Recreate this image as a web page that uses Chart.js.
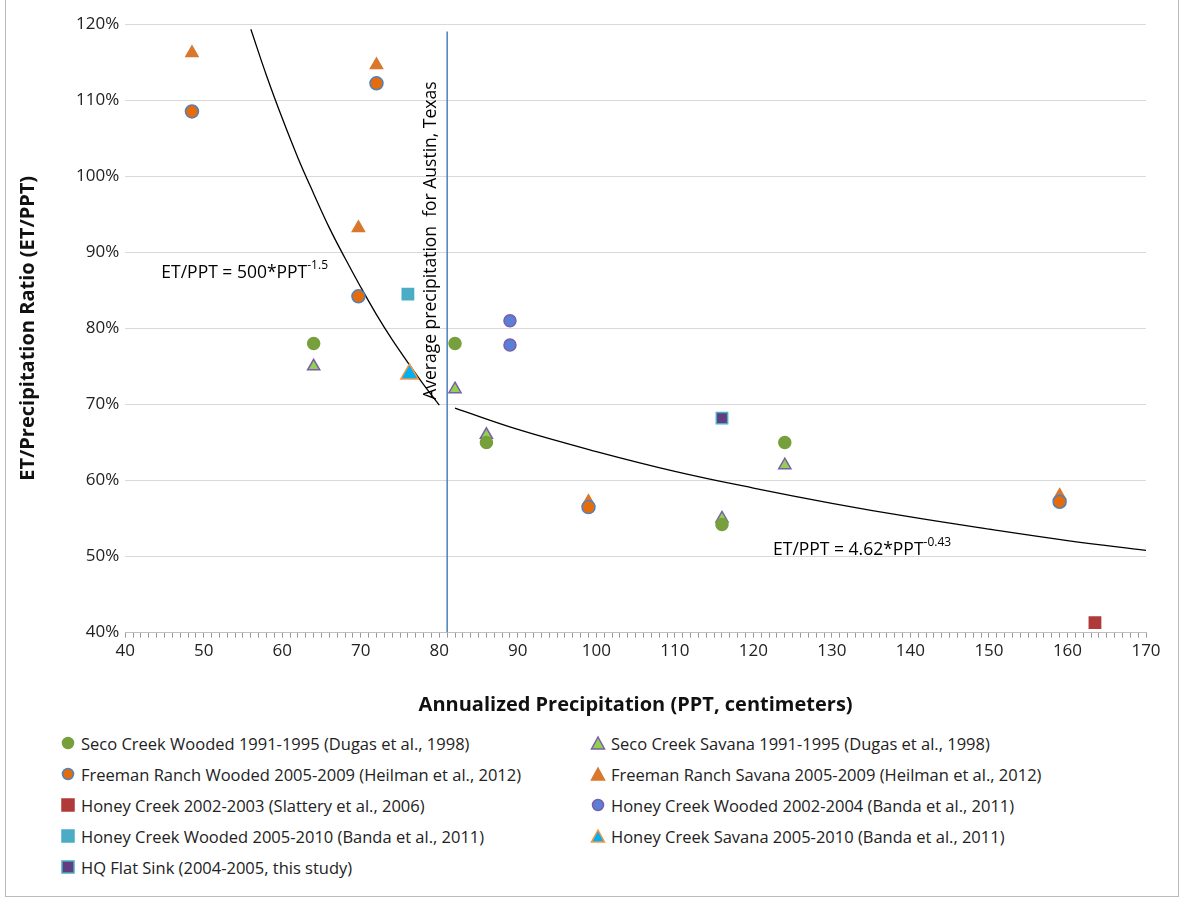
<!DOCTYPE html>
<html><head><meta charset="utf-8">
<script src="https://cdn.jsdelivr.net/npm/chart.js@4/dist/chart.umd.min.js"></script>
<style>
body{margin:0;background:#fff;font-family:"Open Sans",Calibri,sans-serif;}
#wrap{position:absolute;left:0;top:0;width:1179px;height:725px;}
#legend{position:absolute;left:60px;top:732px;width:1100px;font-size:16.5px;color:#222;
 display:grid;grid-template-columns:530px 530px;row-gap:9px;}
#legend div{display:flex;align-items:center;height:22px;}
#legend svg{margin-right:5px;}
#frame{position:absolute;left:5px;top:0;width:1172px;height:896px;border:1px solid #bbb;border-top:none;pointer-events:none;}
</style></head><body>
<div id="wrap"><canvas id="c"></canvas></div>
<div id="legend"></div>
<div id="frame"></div>
<script>
// data (PPT cm, ET/PPT %)
const secoWoodedX = [64, 82, 86, 116, 124];
const secoWoodedY = [78, 78, 65, 54.2, 65];
const secoSavanaX = [64, 82, 86, 116, 124];
const secoSavanaY = [75, 72, 66, 55, 62];
const freemanWoodedX = [48.5, 72, 69.7, 99, 159];
const freemanWoodedY = [108.5, 112.2, 84.2, 56.5, 57.2];
const freemanSavanaX = [48.5, 72, 69.7, 99, 159];
const freemanSavanaY = [116.2, 114.6, 93.2, 57.2, 58];
const honey0203X = [163.5];
const honey0203Y = [41.3];
const honeyWooded0204X = [89, 89];
const honeyWooded0204Y = [81, 77.8];
const honeyWooded0510X = [76];
const honeyWooded0510Y = [84.5];
const honeySavanaX = [76.2];
const honeySavanaY = [74];
const hqX = [116];
const hqY = [68.2];
const fit1X = [56, 58, 60, 62, 64, 66, 68, 70, 72, 74, 76, 78, 80];
const fit1Y = [119.3, 113.2, 107.6, 102.4, 97.7, 93.2, 89.2, 85.4, 81.8, 78.5, 75.5, 72.6, 69.9];
const fit2X = [82, 90, 100, 110, 120, 130, 140, 150, 160, 170];
const fit2Y = [69.5, 66.7, 63.8, 61.2, 59.0, 57.0, 55.2, 53.6, 52.1, 50.8];
const austinX = [81, 81];
const austinY = [40, 119];
const xTicks = [40, 50, 60, 70, 80, 90, 100, 110, 120, 130, 140, 150, 160, 170];

const pts = (xs, ys) => xs.map((x, i) => ({ x, y: ys[i] }));

const series = [
  { label: 'Seco Creek Wooded 1991-1995 (Dugas et al., 1998)', x: secoWoodedX, y: secoWoodedY, style: 'circle', fill: '#77a03c', edge: '#77a03c', r: 6 },
  { label: 'Seco Creek Savana 1991-1995 (Dugas et al., 1998)', x: secoSavanaX, y: secoSavanaY, style: 'triangle', fill: '#92d050', edge: '#7a5ea8', r: 7 },
  { label: 'Freeman Ranch Wooded 2005-2009 (Heilman et al., 2012)', x: freemanWoodedX, y: freemanWoodedY, style: 'circle', fill: '#e46c0a', edge: '#4f81bd', r: 6.5 },
  { label: 'Freeman Ranch Savana 2005-2009 (Heilman et al., 2012)', x: freemanSavanaX, y: freemanSavanaY, style: 'triangle', fill: '#d9782d', edge: '#d9782d', r: 7 },
  { label: 'Honey Creek 2002-2003 (Slattery et al., 2006)', x: honey0203X, y: honey0203Y, style: 'rect', fill: '#b03a3a', edge: '#b03a3a', r: 8 },
  { label: 'Honey Creek Wooded 2002-2004 (Banda et al., 2011)', x: honeyWooded0204X, y: honeyWooded0204Y, style: 'circle', fill: '#5b7fd6', edge: '#7a5ea8', r: 6 },
  { label: 'Honey Creek Wooded 2005-2010 (Banda et al., 2011)', x: honeyWooded0510X, y: honeyWooded0510Y, style: 'rect', fill: '#4bacc6', edge: '#4bacc6', r: 8 },
  { label: 'Honey Creek Savana 2005-2010 (Banda et al., 2011)', x: honeySavanaX, y: honeySavanaY, style: 'triangle', fill: '#00b0f0', edge: '#f79646', r: 10 },
  { label: 'HQ Flat Sink (2004-2005, this study)', x: hqX, y: hqY, style: 'rect', fill: '#5f3f7f', edge: '#4bacc6', r: 8 }
];

const datasets = series.map(s => ({
  type: 'scatter', label: s.label, data: pts(s.x, s.y), pointStyle: s.style,
  pointRadius: s.r, pointBackgroundColor: s.fill, pointBorderColor: s.edge, pointBorderWidth: 1.5, showLine: false
}));
datasets.push(
  { type: 'line', data: pts(fit1X, fit1Y), borderColor: '#000', borderWidth: 1.3, pointRadius: 0, tension: 0.4, fill: false },
  { type: 'line', data: pts(fit2X, fit2Y), borderColor: '#000', borderWidth: 1.3, pointRadius: 0, tension: 0.4, fill: false },
  { type: 'line', data: pts(austinX, austinY), borderColor: '#4a7ebb', borderWidth: 1.5, pointRadius: 0, fill: false }
);

const notes = {
  id: 'notes',
  afterDatasetsDraw(chart) {
    const { ctx, scales: { x, y } } = chart;
    ctx.save();
    ctx.fillStyle = '#000';
    ctx.textBaseline = 'alphabetic';
    const sup = (txt, s, px, py) => {
      ctx.font = '17.5px "Open Sans", sans-serif';
      ctx.fillText(txt, px, py);
      const w = ctx.measureText(txt).width;
      ctx.font = '12px "Open Sans", sans-serif';
      ctx.fillText(s, px + w, py - 9);
    };
    sup('ET/PPT = 500*PPT', '-1.5', x.getPixelForValue(44.6), y.getPixelForValue(86.6));
    sup('ET/PPT = 4.62*PPT', '-0.43', x.getPixelForValue(122.5), y.getPixelForValue(50.2));
    ctx.translate(x.getPixelForValue(79.6), y.getPixelForValue(70.6));
    ctx.rotate(-Math.PI / 2);
    ctx.font = '17.5px "Open Sans", sans-serif';
    ctx.fillText('Average precipitation  for Austin, Texas', 0, 0);
    ctx.restore();
  }
};

new Chart(document.getElementById('c'), {
  data: { datasets },
  plugins: [notes],
  options: {
    responsive: true, maintainAspectRatio: false, animation: false,
    layout: { padding: { top: 24, right: 33, left: 12, bottom: 4 } },
    plugins: { legend: { display: false }, tooltip: { enabled: false } },
    scales: {
      x: {
        type: 'linear', min: 40, max: 170,
        afterBuildTicks: ax => { const t = []; for (let v = 40; v <= 170; v++) t.push({ value: v }); ax.ticks = t; },
        grid: { drawOnChartArea: false, color: '#999', tickLength: 5, offset: false },
        border: { color: '#bfbfbf' },
        ticks: { autoSkip: false, maxRotation: 0, color: '#222', font: { size: 17, family: '"Open Sans"' },
          callback: v => xTicks.includes(v) ? String(v) : '' },
        title: { display: true, text: 'Annualized Precipitation (PPT, centimeters)', color: '#111',
          font: { size: 20, weight: 'bold', family: '"Open Sans"' }, padding: { top: 29 } }
      },
      y: {
        min: 40, max: 120,
        ticks: { stepSize: 10, color: '#222', font: { size: 17, family: '"Open Sans"' }, callback: v => v + '%', padding: 6 },
        grid: { color: '#d9d9d9', drawTicks: false },
        border: { display: false },
        title: { display: true, text: 'ET/Precipitation Ratio (ET/PPT)', color: '#111',
          font: { size: 20, weight: 'bold', family: '"Open Sans"' }, padding: { bottom: 30 } }
      }
    }
  }
});

const legend = document.getElementById('legend');
series.forEach(s => {
  let m;
  if (s.style === 'circle') m = `<circle cx="8" cy="8" r="5.5" fill="${s.fill}" stroke="${s.edge}" stroke-width="1.5"/>`;
  else if (s.style === 'rect') m = `<rect x="2" y="2" width="12" height="12" fill="${s.fill}" stroke="${s.edge}" stroke-width="1.5"/>`;
  else m = `<polygon points="8,2 14.5,14 1.5,14" fill="${s.fill}" stroke="${s.edge}" stroke-width="1.5"/>`;
  const d = document.createElement('div');
  d.innerHTML = `<svg width="16" height="16">${m}</svg><span>${s.label}</span>`;
  legend.appendChild(d);
});
</script>
</body></html>
